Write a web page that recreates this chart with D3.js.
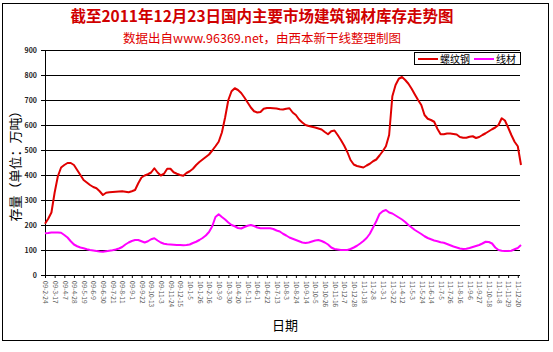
<!DOCTYPE html>
<html>
<head>
<meta charset="utf-8">
<script src="https://cdn.jsdelivr.net/npm/d3@7"></script>
<style>
  body { margin: 0; background: #fff; }
  text { font-family: "Noto Sans CJK SC", "Liberation Sans", sans-serif; }
</style>
</head>
<body>
<div id="viz"></div>
<script>
// data: weekly, from 09-2-24 to 11-12-23

const startDate = new Date(2009, 1, 24);
const yTicks = [0, 100, 200, 300, 400, 500, 600, 700, 800, 900];

const rebar = [
  205, 225, 250, 330, 395, 430, 440, 448, 448, 440,
  420, 400, 380, 370, 360, 352, 347, 335, 320, 329,
  331, 332, 333, 334, 335, 333, 331, 335, 340, 367,
  390, 398, 403, 410, 427, 410, 398, 405, 425, 425,
  411, 405, 400, 397, 408, 415, 425, 440, 452, 462,
  472, 482, 498, 515, 533, 570, 630, 700, 735, 747,
  740, 728, 710, 690, 670, 655, 650, 652, 665, 668,
  668, 667, 666, 663, 662, 665, 667, 650, 640, 622,
  610, 600, 596, 593, 590, 586, 582, 572, 563, 575,
  578, 560, 540, 518, 492, 460, 442, 436, 433, 430,
  438, 445, 455, 462, 478, 495, 515, 560, 715, 760,
  785, 792, 780, 765, 745, 722, 700, 680, 640, 625,
  620, 613, 585, 563, 563, 566, 566, 564, 562, 552,
  549, 549, 553, 555, 548, 552, 560, 567, 575, 583,
  590, 600, 627, 618, 590, 560, 533, 515, 440
];

const wire = [
  167, 168, 170, 170, 170, 169, 160, 150, 135, 122,
  115, 110, 107, 103, 100, 98, 96, 94, 93, 95,
  97, 99, 102, 106, 112, 122, 130, 136, 140, 140,
  135, 130, 135, 143, 147, 138, 130, 125, 123, 122,
  121, 120, 120, 119, 120, 122, 128, 133, 140, 148,
  158, 172, 195, 232, 243, 232, 222, 210, 200, 195,
  188, 186, 192, 197, 200, 196, 190, 187, 187, 187,
  187, 184, 178, 174, 165, 158, 150, 145, 140, 135,
  130, 128, 130, 134, 138, 140, 136, 130, 122, 110,
  104, 102, 100, 100, 100, 104, 110, 117, 126, 136,
  148, 165, 190, 215, 244, 255, 260, 250, 246, 238,
  230, 222, 212, 200, 190, 180, 172, 164, 155, 148,
  143, 138, 135, 131, 129, 124, 119, 114, 110, 106,
  104, 105, 108, 112, 116, 120, 126, 133, 132, 126,
  110, 100, 97, 96, 96, 97, 103, 108, 120
];

const seriesNames = ["螺纹钢", "线材"];
const seriesColors = ["#e00000", "#ff00ff"];

// dates as category labels
const fmt = d => `${String(d.getFullYear()).slice(2)}-${d.getMonth() + 1}-${d.getDate()}`;
const dates = rebar.map((v, i) => {
  if (i === rebar.length - 1) return "11-12-23";
  return fmt(d3.timeDay.offset(startDate, i * 7));
});
const tickDates = dates.filter((d, i) => i % 3 === 0 && i < rebar.length - 1);

// dimensions

const dms = {
  width: 553,
  height: 352,
  margins: { top: 50, bottom: 77, left: 45, right: 33 }
};
dms.innerWidth = dms.width - dms.margins.left - dms.margins.right;
dms.innerHeight = dms.height - dms.margins.top - dms.margins.bottom;

const svg = d3.select("#viz")
  .append("svg")
    .attr("width", dms.width)
    .attr("height", dms.height);

// outer frame
svg.append("rect")
  .attr("x", 2.5).attr("y", 3.5)
  .attr("width", 546).attr("height", 337)
  .attr("fill", "none")
  .attr("stroke", "#000");

const g = svg.append("g")
  .attr("transform", `translate(${dms.margins.left},${dms.margins.top})`);

// scales

const xScale = d3.scalePoint()
  .domain(dates)
  .range([0, dms.innerWidth + 1]);

const yScale = d3.scaleLinear()
  .domain([0, 900])
  .range([dms.innerHeight, 0]);

// grid

g.append("g")
  .selectAll("line")
  .data(yTicks.filter(t => t > 0))
  .join("line")
    .attr("x1", 0)
    .attr("x2", dms.innerWidth)
    .attr("y1", d => Math.round(yScale(d)) + 0.5)
    .attr("y2", d => Math.round(yScale(d)) + 0.5)
    .attr("stroke", "#000")
    .attr("stroke-width", 1);

// axes

const yAxis = d3.axisLeft(yScale)
  .tickValues(yTicks)
  .tickSize(4)
  .tickPadding(4);

const yAxisG = g.append("g")
  .call(yAxis);
yAxisG.select(".domain").attr("stroke", "#000");
yAxisG.selectAll("text")
  .attr("font-family", "Liberation Sans, Arial, sans-serif")
  .attr("font-weight", "bold")
  .attr("font-size", 7)
  .attr("fill", "#222");

const xAxis = d3.axisBottom(xScale)
  .tickValues(tickDates)
  .tickSize(3)
  .tickSizeOuter(0);

const xAxisG = g.append("g")
  .attr("transform", `translate(0,${dms.innerHeight})`)
  .call(xAxis);
xAxisG.select(".domain").attr("d", `M0.5,0.5H${dms.innerWidth}`).attr("stroke", "#000");
xAxisG.selectAll("text")
  .attr("font-family", "Liberation Sans, Arial, sans-serif")
  .attr("font-size", 6.5)
  .attr("fill", "#555")
  .attr("transform", "rotate(90)")
  .attr("x", 6)
  .attr("y", 0)
  .attr("dy", "0.35em")
  .attr("text-anchor", "start");

// lines

const lineGen = d3.line()
  .x((d, i) => xScale(dates[i]))
  .y(d => yScale(d));

[rebar, wire].forEach((s, k) => {
  g.append("path")
    .datum(s)
    .attr("fill", "none")
    .attr("stroke", seriesColors[k])
    .attr("stroke-width", 2)
    .attr("stroke-linejoin", "round")
    .attr("d", lineGen);
});

// titles

svg.append("text")
  .attr("x", 262)
  .attr("y", 22)
  .attr("text-anchor", "middle")
  .attr("font-size", 15.5)
  .attr("font-weight", "bold")
  .attr("fill", "#d00000")
  .text("截至2011年12月23日国内主要市场建筑钢材库存走势图");

svg.append("text")
  .attr("x", 262)
  .attr("y", 43)
  .attr("text-anchor", "middle")
  .attr("font-size", 12.5)
  .attr("fill", "#e00000")
  .text("数据出自www.96369.net，由西本新干线整理制图");

svg.append("text")
  .attr("transform", "translate(20,163) rotate(-90)")
  .attr("text-anchor", "middle")
  .attr("font-size", 13)
  .attr("fill", "#000")
  .text("存量（单位：万吨）");

svg.append("text")
  .attr("x", 285)
  .attr("y", 330)
  .attr("text-anchor", "middle")
  .attr("font-size", 13)
  .attr("fill", "#000")
  .text("日期");

// legend

const legend = svg.append("g")
  .attr("transform", "translate(414,52)");

legend.append("rect")
  .attr("x", 0.5).attr("y", 0.5)
  .attr("width", 106).attr("height", 12)
  .attr("fill", "#fff")
  .attr("stroke", "#000");

const legendItems = legend.selectAll("g.item")
  .data(seriesNames)
  .join("g")
    .attr("class", "item")
    .attr("transform", (d, i) => `translate(${4 + i * 56},0)`);

legendItems.append("line")
  .attr("x1", 0).attr("x2", 20)
  .attr("y1", 7).attr("y2", 7)
  .attr("stroke", (d, i) => seriesColors[i])
  .attr("stroke-width", 2);

legendItems.append("text")
  .attr("x", 22)
  .attr("y", 10.5)
  .attr("font-size", 10)
  .attr("fill", "#000")
  .text(d => d);
</script>
</body>
</html>
